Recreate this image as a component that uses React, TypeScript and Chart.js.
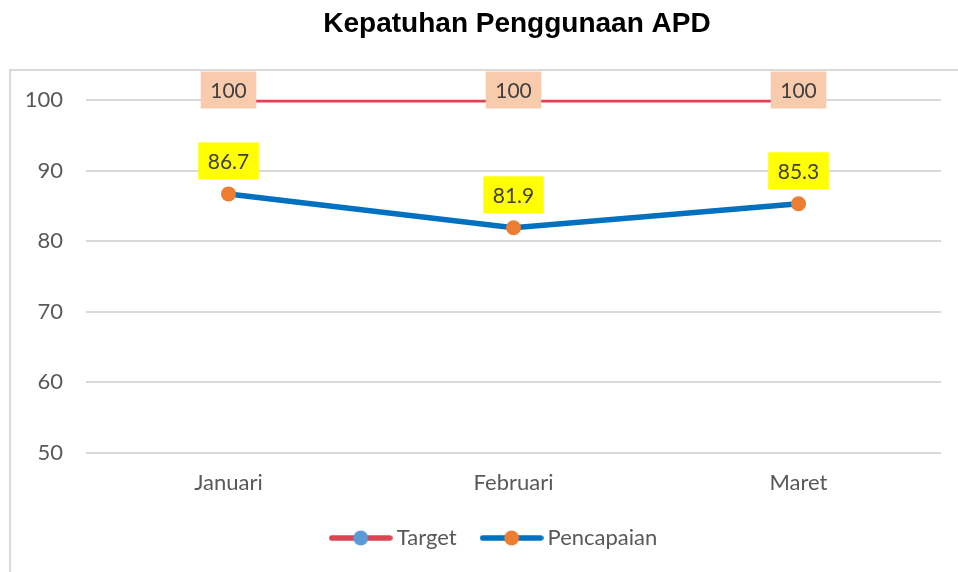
import React, { useEffect, useRef } from "react";
import { Chart, registerables } from "chart.js";
Chart.register(...registerables);

const titleText = "Kepatuhan Penggunaan APD";
const categories = ["Januari", "Februari", "Maret"];
const seriesNames = ["Target", "Pencapaian"];
const targetValues = [100, 100, 100];
const achievementValues = [86.7, 81.9, 85.3];
const yMin = 50;
const yMax = 100;
const yStep = 10;

const FONT = "Lato, 'Open Sans', sans-serif";
const lineColors = ["#DA4453", "#0070C0"];
const markerColors = ["#5B9BD5", "#ED7D31"];
const labelBgs = ["#F8CBAD", "#FFFF00"];
const labelOffsets = [-10, -33];

function legendIcon(lineColor: string, dotColor: string) {
  const c = document.createElement("canvas");
  c.width = 64;
  c.height = 18;
  const ctx = c.getContext("2d")!;
  ctx.strokeStyle = lineColor;
  ctx.lineWidth = 5.5;
  ctx.lineCap = "round";
  ctx.beginPath();
  ctx.moveTo(3, 9);
  ctx.lineTo(61, 9);
  ctx.stroke();
  ctx.fillStyle = dotColor;
  ctx.beginPath();
  ctx.arc(32, 9, 7.5, 0, Math.PI * 2);
  ctx.fill();
  return c;
}

const decorPlugin = {
  id: "decor",
  afterLayout(chart: any) {
    if (chart.legend) {
      chart.legend.left += 21;
      chart.legend.right += 21;
    }
  },
  beforeDraw(chart: any) {
    const ctx = chart.ctx;
    ctx.save();
    ctx.strokeStyle = "#D9D9D9";
    ctx.lineWidth = 2;
    ctx.beginPath();
    ctx.moveTo(10, 600);
    ctx.lineTo(10, 70);
    ctx.lineTo(1000, 70);
    ctx.stroke();
    ctx.fillStyle = "#000000";
    ctx.font = "bold 28px 'Liberation Sans', Arial, sans-serif";
    ctx.textAlign = "center";
    ctx.textBaseline = "middle";
    ctx.fillText(titleText, 517, 24);
    ctx.restore();
  },
  afterDatasetsDraw(chart: any) {
    const ctx = chart.ctx;
    ctx.save();
    ctx.font = "21px " + FONT;
    ctx.textAlign = "center";
    ctx.textBaseline = "middle";
    chart.data.datasets.forEach((ds: any, di: number) => {
      const meta = chart.getDatasetMeta(di);
      meta.data.forEach((pt: any, i: number) => {
        const text = String(ds.data[i]);
        const w = ctx.measureText(text).width + 19;
        const h = 37;
        const cx = pt.x;
        const cy = pt.y + labelOffsets[di];
        ctx.fillStyle = labelBgs[di];
        ctx.fillRect(cx - w / 2, cy - h / 2, w, h);
        ctx.fillStyle = "#404040";
        ctx.fillText(text, cx, cy + 1);
      });
    });
    ctx.restore();
  },
};

export default function App() {
  const ref = useRef<HTMLCanvasElement>(null);
  useEffect(() => {
    document.body.style.margin = "0";
    const icons = [
      legendIcon(lineColors[0], markerColors[0]),
      legendIcon(lineColors[1], markerColors[1]),
    ];
    const chart = new Chart(ref.current!, {
      type: "line",
      data: {
        labels: categories,
        datasets: [
          {
            label: seriesNames[0],
            data: targetValues,
            borderColor: lineColors[0],
            backgroundColor: markerColors[0],
            pointBackgroundColor: markerColors[0],
            pointBorderColor: markerColors[0],
            borderWidth: 5,
            pointRadius: 7,
            pointBorderWidth: 0,
            tension: 0,
          },
          {
            label: seriesNames[1],
            data: achievementValues,
            borderColor: lineColors[1],
            backgroundColor: markerColors[1],
            pointBackgroundColor: markerColors[1],
            pointBorderColor: markerColors[1],
            borderWidth: 5.5,
            pointRadius: 7.5,
            pointBorderWidth: 0,
            tension: 0,
          },
        ],
      },
      options: {
        responsive: false,
        animation: false,
        layout: { padding: { left: 10, right: 17, top: 100, bottom: 13 } },
        scales: {
          x: {
            offset: true,
            grid: { display: false, drawTicks: false },
            border: { display: false },
            ticks: { color: "#595959", font: { family: FONT, size: 22 }, padding: 17 },
            afterFit: (s: any) => {
              s.height = 44;
            },
          },
          y: {
            min: yMin,
            max: yMax,
            grid: { color: "#D9D9D9", lineWidth: 2, drawTicks: false },
            border: { display: false },
            ticks: { stepSize: yStep, color: "#595959", font: { family: FONT, size: 22 }, padding: 23 },
            afterFit: (s: any) => {
              s.width = 76;
            },
          },
        },
        plugins: {
          title: { display: false },
          tooltip: { enabled: false },
          legend: {
            display: true,
            position: "bottom",
            labels: {
              usePointStyle: true,
              pointStyleWidth: 50,
              padding: 30,
              color: "#595959",
              font: { family: FONT, size: 22 },
              generateLabels: (c: any) => {
                const items = (Chart.defaults.plugins.legend.labels as any).generateLabels(c);
                return items.map((it: any, i: number) => ({ ...it, pointStyle: icons[i] }));
              },
            },
          },
        },
      },
      plugins: [decorPlugin],
    });
    return () => chart.destroy();
  }, []);
  return (
    <div style={{ width: 958, height: 572 }}>
      <canvas ref={ref} width={958} height={572} />
    </div>
  );
}
